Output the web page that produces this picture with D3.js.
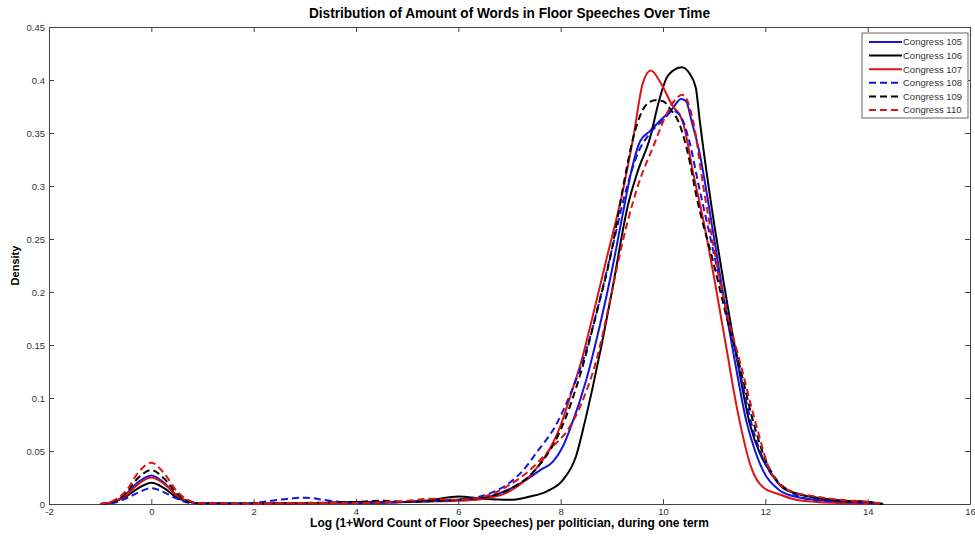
<!DOCTYPE html>
<html>
<head>
<meta charset="utf-8">
<script src="https://cdn.jsdelivr.net/npm/d3@7"></script>
<style>
body { margin: 0; background: #fff; }
svg { display: block; }
.tick text { font-family: "Liberation Sans", Arial, sans-serif; font-size: 9.5px; fill: #333; }
</style>
</head>
<body>
<div id="chart"></div>
<script>
// density estimates, [log word count, density]
var congress105 = [[-1,0],[-0.75,0.002],[-0.5,0.009],[-0.25,0.021],[0,0.027],[0.25,0.02],[0.5,0.008],[0.75,0.002],[1,0.0005],[2,0.0003],[3,0.001],[4,0.001],[5,0.002],[6,0.004],[6.5,0.006],[7,0.014],[7.3,0.022],[7.6,0.032],[7.85,0.04],[8.05,0.055],[8.2,0.073],[8.5,0.117],[8.75,0.165],[9,0.22],[9.2,0.27],[9.4,0.318],[9.55,0.342],[9.75,0.352],[9.95,0.362],[10.17,0.372],[10.35,0.382],[10.45,0.38],[10.56,0.361],[10.72,0.33],[10.9,0.28],[11.1,0.22],[11.4,0.136],[11.63,0.078],[11.8,0.05],[11.95,0.032],[12.25,0.014],[12.5,0.008],[13,0.004],[13.5,0.002],[14,0.0005]];
var congress106 = [[-1,0],[-0.75,0.002],[-0.5,0.007],[-0.25,0.015],[0,0.02],[0.25,0.015],[0.5,0.006],[0.75,0.002],[1,0.0005],[2,0.0002],[3,0.0005],[4,0.002],[5,0.002],[5.5,0.004],[6,0.007],[6.5,0.005],[7.07,0.004],[7.4,0.007],[7.73,0.012],[8.05,0.023],[8.3,0.045],[8.45,0.073],[8.63,0.111],[8.8,0.15],[9,0.2],[9.32,0.283],[9.5,0.313],[9.75,0.346],[9.92,0.38],[10.07,0.402],[10.2,0.409],[10.37,0.412],[10.52,0.406],[10.64,0.393],[10.72,0.361],[10.92,0.29],[11.2,0.205],[11.45,0.136],[11.7,0.075],[11.9,0.047],[12.1,0.03],[12.3,0.017],[12.6,0.01],[13,0.006],[13.5,0.003],[14,0.002],[14.3,0]];
var congress107 = [[-1,0],[-0.75,0.002],[-0.5,0.008],[-0.25,0.019],[0,0.025],[0.25,0.019],[0.5,0.008],[0.75,0.002],[1,0.0005],[2,0.0002],[3,0.0005],[4,0.001],[5,0.002],[6,0.003],[6.5,0.005],[7,0.012],[7.5,0.032],[7.99,0.073],[8.25,0.111],[8.4,0.134],[8.6,0.172],[8.9,0.232],[9.2,0.292],[9.42,0.346],[9.6,0.396],[9.76,0.409],[9.97,0.396],[10.17,0.377],[10.39,0.36],[10.6,0.31],[10.82,0.26],[11.03,0.205],[11.28,0.136],[11.37,0.11],[11.52,0.073],[11.72,0.035],[11.95,0.016],[12.28,0.009],[12.6,0.004],[13,0.002],[13.5,0.001],[14,0]];
var congress108 = [[-1,0],[-0.75,0.001],[-0.5,0.005],[-0.25,0.011],[0,0.015],[0.25,0.011],[0.5,0.005],[0.75,0.001],[1,0.0005],[1.5,0.0005],[2,0.001],[2.5,0.004],[3,0.006],[3.5,0.003],[4,0.001],[5,0.002],[6,0.004],[6.5,0.008],[7,0.02],[7.27,0.032],[7.55,0.05],[7.89,0.073],[8.2,0.105],[8.5,0.145],[8.75,0.19],[9,0.24],[9.3,0.3],[9.5,0.33],[9.75,0.35],[10,0.362],[10.2,0.371],[10.33,0.367],[10.5,0.345],[10.7,0.3],[11,0.235],[11.25,0.18],[11.5,0.125],[11.75,0.072],[12,0.038],[12.25,0.02],[12.5,0.011],[12.8,0.005],[13.5,0.002],[14,0.001],[14.2,0]];
var congress109 = [[-1,0],[-0.75,0.002],[-0.5,0.01],[-0.25,0.025],[0,0.032],[0.25,0.024],[0.5,0.01],[0.75,0.002],[1,0.0005],[2,0.0005],[3,0.001],[4,0.002],[4.5,0.003],[5,0.002],[5.5,0.003],[6,0.004],[6.5,0.006],[7,0.014],[7.5,0.032],[8,0.07],[8.4,0.125],[8.7,0.18],[9,0.24],[9.22,0.299],[9.42,0.346],[9.68,0.377],[9.85,0.381],[10,0.38],[10.15,0.372],[10.3,0.361],[10.49,0.33],[10.66,0.289],[11,0.225],[11.25,0.175],[11.5,0.13],[11.75,0.08],[12,0.042],[12.25,0.021],[12.5,0.012],[13,0.006],[13.5,0.003],[14,0.002],[14.3,0]];
var congress110 = [[-1,0],[-0.75,0.003],[-0.5,0.012],[-0.25,0.03],[0,0.039],[0.25,0.029],[0.5,0.012],[0.75,0.003],[1,0.0005],[2,0.0003],[3,0.001],[4,0.001],[5,0.003],[5.5,0.005],[6,0.004],[6.5,0.007],[7,0.018],[7.4,0.032],[7.8,0.052],[8.18,0.073],[8.45,0.1],[8.7,0.136],[9,0.2],[9.2,0.245],[9.42,0.286],[9.55,0.306],[9.8,0.336],[10.07,0.368],[10.25,0.382],[10.37,0.386],[10.45,0.383],[10.59,0.361],[10.79,0.299],[11,0.24],[11.25,0.18],[11.5,0.135],[11.83,0.073],[12.09,0.032],[12.5,0.012],[13,0.007],[13.45,0.004],[14,0.002],[14.3,0]];

var seriesNames = ["Congress 105", "Congress 106", "Congress 107", "Congress 108", "Congress 109", "Congress 110"];
var seriesData = [congress105, congress106, congress107, congress108, congress109, congress110];

var xTicks = [-2, 0, 2, 4, 6, 8, 10, 12, 14, 16];
var yTicks = [0, 0.05, 0.1, 0.15, 0.2, 0.25, 0.3, 0.35, 0.4, 0.45];

var lineColors = ["#1414dc", "#000000", "#dc1414", "#1414dc", "#000000", "#dc1414"];
var lineDashes = [null, null, null, "7,4", "7,4", "7,4"];

var width = 975,
    height = 537,
    margin = {top: 27, right: 5, bottom: 33, left: 49};

var xScale = d3.scaleLinear()
    .domain([-2, 16])
    .range([margin.left, width - margin.right]);

var yScale = d3.scaleLinear()
    .domain([0, 0.45])
    .range([height - margin.bottom, margin.top]);

var svg = d3.select("#chart")
    .append("svg")
    .attr("width", width)
    .attr("height", height);

function fmt(d) { return String(d); }

var axisColor = "#444";

var gx = svg.append("g")
    .attr("transform", "translate(0," + yScale(0) + ")")
    .call(d3.axisBottom(xScale).tickValues(xTicks).tickFormat(fmt).tickSizeInner(-5).tickSizeOuter(0).tickPadding(6));
var gxTop = svg.append("g")
    .attr("transform", "translate(0," + yScale(0.45) + ")")
    .call(d3.axisTop(xScale).tickValues(xTicks).tickFormat("").tickSizeInner(-5).tickSizeOuter(0));
var gy = svg.append("g")
    .attr("transform", "translate(" + xScale(-2) + ",0)")
    .call(d3.axisLeft(yScale).tickValues(yTicks).tickFormat(fmt).tickSizeInner(-5).tickSizeOuter(0).tickPadding(4));
var gyRight = svg.append("g")
    .attr("transform", "translate(" + xScale(16) + ",0)")
    .call(d3.axisRight(yScale).tickValues(yTicks).tickFormat("").tickSizeInner(-5).tickSizeOuter(0));

[gx, gxTop, gy, gyRight].forEach(function(g) {
    g.selectAll("path, line").attr("stroke", axisColor);
});
gx.selectAll(".tick text").attr("dy", "0.55em");

var line = d3.line()
    .x(function(d) { return xScale(d[0]); })
    .y(function(d) { return yScale(d[1]); })
    .curve(d3.curveMonotoneX);

svg.append("g")
    .selectAll("path")
    .data(seriesData)
    .enter()
    .append("path")
    .attr("d", line)
    .attr("fill", "none")
    .attr("stroke", function(d, i) { return lineColors[i]; })
    .attr("stroke-width", 2)
    .attr("stroke-dasharray", function(d, i) { return lineDashes[i]; })
    .attr("stroke-linejoin", "round");

// the original title font is a tall condensed face, squeeze a larger size into its width
svg.append("text")
    .attr("x", (xScale(-2) + xScale(16)) / 2)
    .attr("y", 18)
    .attr("text-anchor", "middle")
    .attr("textLength", 401)
    .attr("lengthAdjust", "spacingAndGlyphs")
    .style("font-family", "'Liberation Sans', Arial, sans-serif")
    .style("font-weight", "bold")
    .style("font-size", "14px")
    .text("Distribution of Amount of Words in Floor Speeches Over Time");

svg.append("text")
    .attr("x", (xScale(-2) + xScale(16)) / 2)
    .attr("y", 527)
    .attr("text-anchor", "middle")
    .style("font-family", "'Liberation Sans', Arial, sans-serif")
    .style("font-weight", "bold")
    .style("font-size", "12px")
    .text("Log (1+Word Count of Floor Speeches) per politician, during one term");

svg.append("text")
    .attr("transform", "translate(19," + ((yScale(0) + yScale(0.45)) / 2) + ") rotate(-90)")
    .attr("text-anchor", "middle")
    .style("font-family", "'Liberation Sans', Arial, sans-serif")
    .style("font-weight", "bold")
    .style("font-size", "11px")
    .text("Density");

// legend
var legend = svg.append("g").attr("transform", "translate(862,33)");
legend.append("rect")
    .attr("width", 106)
    .attr("height", 85)
    .attr("fill", "#fff")
    .attr("stroke", "#666");

var rows = legend.selectAll(".row")
    .data(seriesNames)
    .enter()
    .append("g")
    .attr("class", "row")
    .attr("transform", function(d, i) { return "translate(0," + (9 + i * 13.6) + ")"; });

rows.append("line")
    .attr("x1", 7).attr("x2", 40)
    .attr("stroke", function(d, i) { return lineColors[i]; })
    .attr("stroke-width", 2)
    .attr("stroke-dasharray", function(d, i) { return lineDashes[i]; });

rows.append("text")
    .attr("x", 41)
    .attr("dy", "0.35em")
    .style("font-family", "'Liberation Sans', Arial, sans-serif")
    .style("font-size", "9.5px")
    .style("fill", "#333")
    .text(function(d) { return d; });
</script>
</body>
</html>
